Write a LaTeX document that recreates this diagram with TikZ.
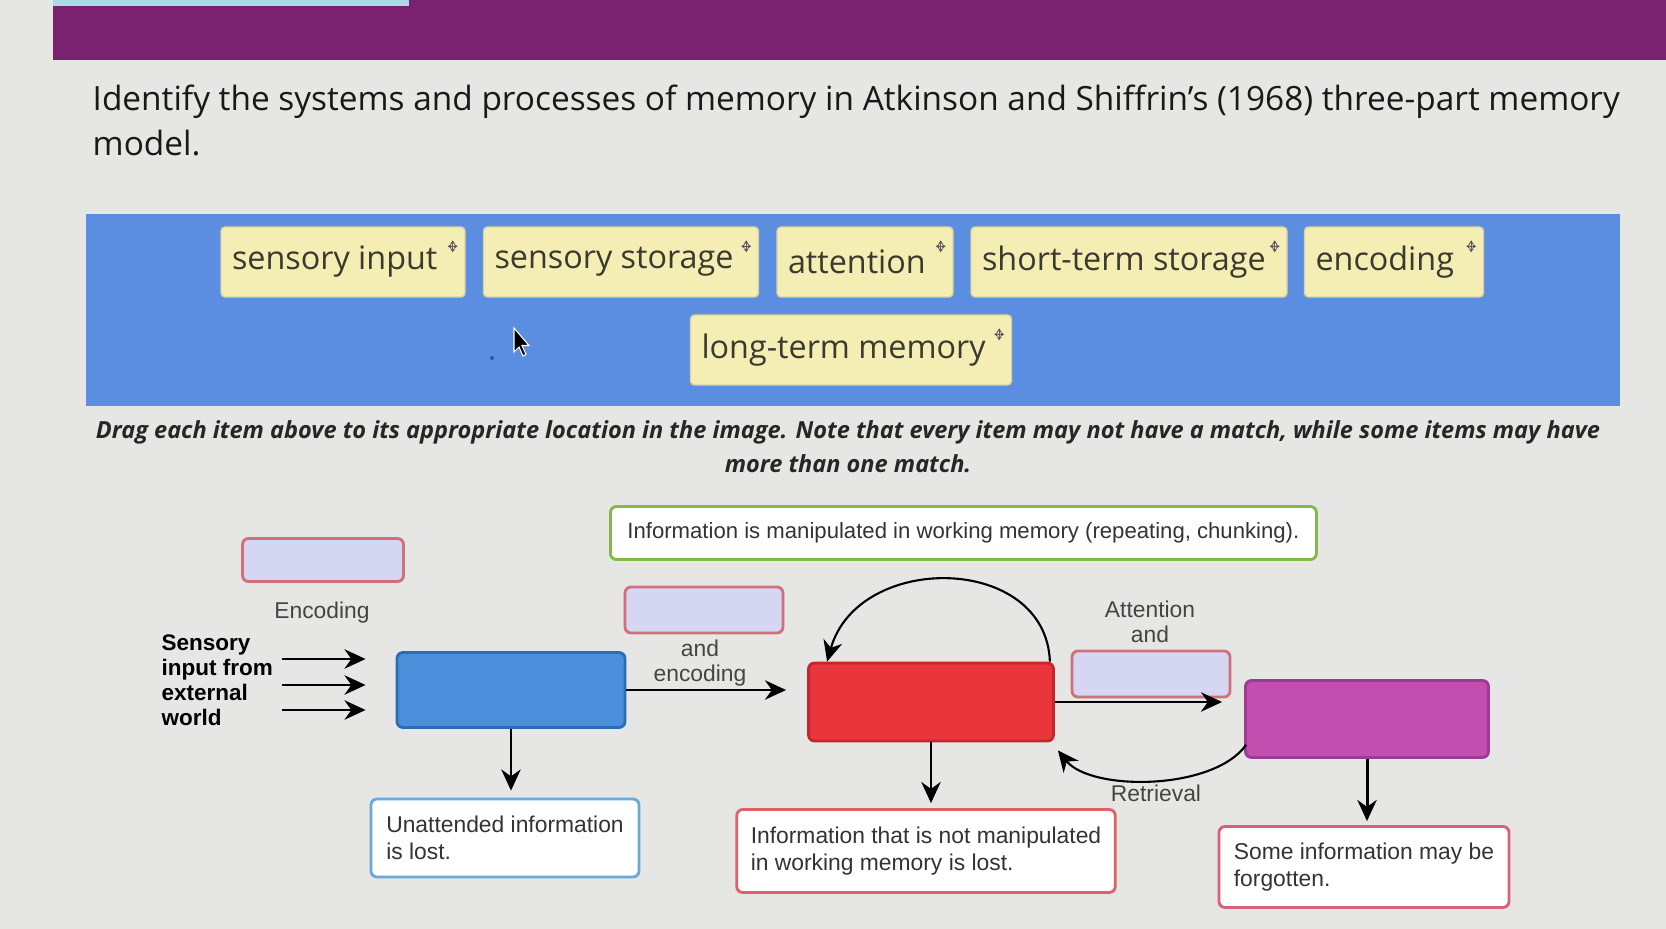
\documentclass[tikz,border=0pt]{standalone}
\usepackage{fontspec}
\setmainfont{Open Sans}
\newfontfamily\figfont{Liberation Sans}
\usetikzlibrary{positioning}
\usetikzlibrary{calc}
\usetikzlibrary{arrows.meta}
\definecolor{bgscreen}{HTML}{E6E6E4}
\definecolor{topband}{HTML}{7A2270}
\definecolor{toptab}{HTML}{A9DCE6}
\definecolor{panel}{HTML}{5B8DE0}
\definecolor{cardfill}{HTML}{F4EDB4}
\definecolor{cardedge}{HTML}{DCD3A0}
\definecolor{cardink}{HTML}{3A3A2E}
\definecolor{dropfill}{HTML}{D4D6F2}
\definecolor{dropedge}{HTML}{D0707A}
\definecolor{sensfill}{HTML}{4B8FDB}
\definecolor{sensedge}{HTML}{2C6CB5}
\definecolor{stmfill}{HTML}{E8363C}
\definecolor{stmedge}{HTML}{C4262C}
\definecolor{ltmfill}{HTML}{C24FB0}
\definecolor{ltmedge}{HTML}{9C3A96}
\definecolor{greenedge}{HTML}{84B848}
\definecolor{rededge}{HTML}{E0606A}
\definecolor{blueedge}{HTML}{6AA8D8}
\definecolor{pinkedge}{HTML}{D8607A}
\definecolor{boxink}{HTML}{333333}
\definecolor{labelink}{HTML}{444444}

\tikzset{
  card/.style={draw=cardedge, fill=cardfill, rounded corners=0.4mm, minimum height=7mm, inner sep=0pt},
  cardtext/.style={anchor=west, inner sep=0pt, font=\fontsize{9.2}{11}\selectfont, text=cardink},
  dropbox/.style={draw=dropedge, fill=dropfill, line width=0.8pt, rounded corners=0.6mm, inner sep=0pt},
  memstore/.style={line width=0.8pt, rounded corners=0.6mm, inner sep=0pt},
  notebox/.style={fill=white, line width=0.8pt, rounded corners=0.6mm, align=left, inner xsep=1.4mm,
    font=\figfont\fontsize{6.5}{7.5}\selectfont, text=boxink},
  steplabel/.style={font=\figfont\fontsize{6.5}{7.2}\selectfont, text=labelink, align=center, inner sep=0pt},
  flow/.style={->, line width=0.85pt},
  loop/.style={->, line width=0.6pt},
  movemark/.pic={
    \draw[line width=0.35pt, black!65, {Stealth[length=1.1pt,width=1.4pt]}-{Stealth[length=1.1pt,width=1.4pt]}] (-5,0) -- (5,0);
    \draw[line width=0.35pt, black!65, {Stealth[length=1.1pt,width=1.4pt]}-{Stealth[length=1.1pt,width=1.4pt]}] (0,-6) -- (0,6);
  }
}

\begin{document}
\begin{tikzpicture}[x=0.1mm, y=-0.1mm, >={Stealth[length=6pt,width=5.5pt]}]
    \useasboundingbox (0,0) rectangle (1666,929);
    \fill[bgscreen] (0,0) rectangle (1666,929);

    % top of the page
    \fill[topband] (53,0) rectangle (1666,60);
    \fill[toptab] (53,0) rectangle (409,6);

    \node[anchor=north west, align=left, inner sep=0pt, text=black!90,
          font=\fontsize{9.5}{12.8}\selectfont] (title) at (92,84)
        {Identify the systems and processes of memory in Atkinson and Shiffrin’s (1968) three-part memory\\model.};

    % word bank
    \fill[panel] (86,214) rectangle (1620,406);
    \foreach \cx/\cy/\cw/\ctext/\cname in {343/262/24.4/sensory input/si, 621/262/27.5/sensory storage/ss,
        865/262/17.6/attention/at, 1129/262/31.6/short-term storage/sts, 1394/262/17.9/encoding/enc,
        851/350/32.1/long-term memory/ltmcard} {
        \node[card, minimum width=\cw mm] (\cname) at (\cx,\cy) {};
        \node[cardtext] (\cname-t) at ([xshift=1.1mm]\cname.west) {\ctext};
        \pic at ([xshift=-1.3mm, yshift=-2mm]\cname.north east) {movemark};
    }
    % mouse pointer
    \draw[fill=black, draw=white, line width=0.3pt] (514,328) -- ++(0,24) -- ++(5,-5) -- ++(4,9)
        -- ++(3,-1.5) -- ++(-4,-9) -- ++(7,0) -- cycle;
    \fill[panel!60!black] (492,358) circle (2);

    \node[align=center, inner sep=0pt, text=black!85, font=\fontsize{6.7}{9.6}\selectfont\bfseries\itshape] (hint) at (848,447)
        {Drag each item above to its appropriate location in the image. Note that every item may not have a match, while some items may have\\more than one match.};

    % the model
    \node[notebox, draw=greenedge, minimum width=70.6mm, minimum height=5.3mm, anchor=west,
          font=\figfont\fontsize{6.3}{7.5}\selectfont] (work) at (609,533)
        {Information is manipulated in working memory (repeating, chunking).};

    \node[dropbox, minimum width=16.1mm, minimum height=4.3mm] (drop1) at (323,560) {};
    \node[dropbox, minimum width=15.8mm, minimum height=4.6mm] (drop2) at (704,610) {};
    \node[dropbox, minimum width=15.8mm, minimum height=4.6mm] (drop3) at (1151,674) {};

    \node[memstore, draw=sensedge, fill=sensfill, minimum width=22.8mm, minimum height=7.5mm] (sm) at (511,690) {};
    \node[memstore, draw=stmedge, fill=stmfill, minimum width=24.5mm, minimum height=7.8mm] (stm) at (931,702) {};
    \node[memstore, draw=ltmedge, fill=ltmfill, minimum width=24.3mm, minimum height=7.7mm] (ltm) at (1367,719) {};

    \node[steplabel] (enc-l) at (322,613) {Encoding};
    \node[steplabel, align=left, anchor=west, text=black, font=\figfont\fontsize{6.4}{7.1}\selectfont\bfseries] (sens) at (161,680)
        {Sensory\\input from\\external\\world};
    \node[steplabel] (andenc-l) at (700,663) {and\\encoding};
    \node[steplabel] (att-l) at (1150,622) {Attention\\and};
    \node[steplabel] (ret-l) at (1156,793) {Retrieval};

    \node[notebox, draw=blueedge, minimum width=26.8mm, minimum height=7.8mm] (lost1) at (505,838)
        {Unattended information\\is lost.};
    \node[notebox, draw=rededge, minimum width=37.8mm, minimum height=8.3mm] (lost2) at (926,851)
        {Information that is not manipulated\\in working memory is lost.};
    \node[notebox, draw=pinkedge, minimum width=29mm, minimum height=8.1mm] (lost3) at (1364,867)
        {Some information may be\\forgotten.};

    \foreach \ay in {659,685,710} {
        \draw[flow] ($(sens.east |- 0,\ay)+(8,0)$) -- ($(sm.west |- 0,\ay)+(-30,0)$);
    }
    \draw[flow] (sm.east) -- ($(stm.west |- sm.east)+(-21,0)$);
    \draw[flow] (stm.east) -- ($(ltm.west |- stm.east)+(-22,0)$);
    \draw[flow] (sm.south) -- ($(sm.south |- lost1.north)+(0,-7)$);
    \draw[flow] (stm.south) -- ($(stm.south |- lost2.north)+(0,-5)$);
    \draw[flow] (ltm.south) -- ($(ltm.south |- lost3.north)+(0,-4)$);

    \draw[loop] ([xshift=-0.5mm]stm.north east) .. controls +(-4,-108) and +(31,-110) .. ([xshift=2mm]stm.north west);
    \draw[loop] ([shift={(2,-14)}]ltm.south west) .. controls +(-33,46) and +(33,41) .. ([shift={(3,8)}]stm.south east);
\end{tikzpicture}
\end{document}
